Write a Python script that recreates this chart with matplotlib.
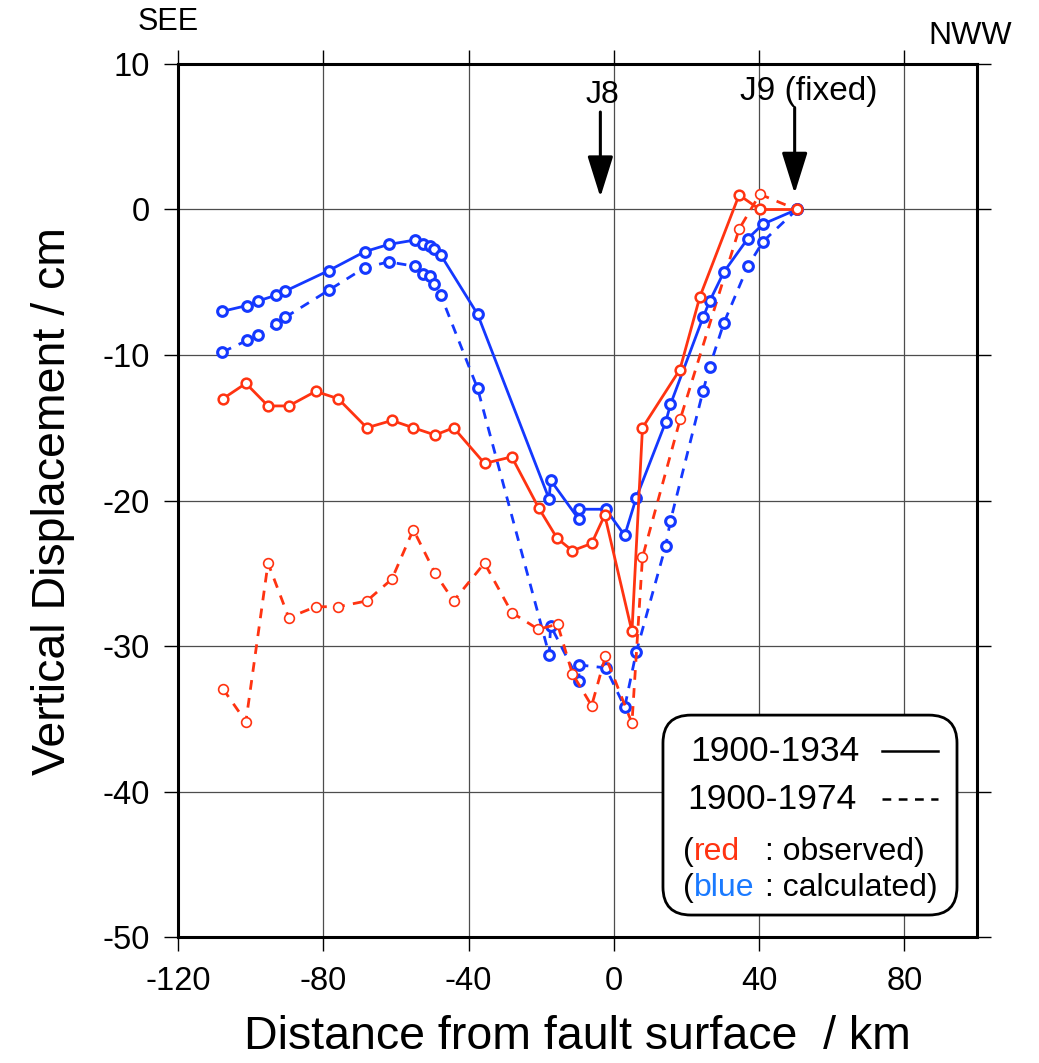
import numpy as np
import matplotlib.pyplot as plt
from matplotlib.patches import FancyBboxPatch
from matplotlib.lines import Line2D

plt.rcParams['font.family'] = ['Liberation Sans', 'DejaVu Sans']
plt.rcParams['axes.unicode_minus'] = False

# observed (red), km from fault surface / cm
obs34_x = [-107.6, -101.3, -95.2, -89.5, -82.1, -75.9, -68.0, -61.1, -55.2, -49.2, -44.1,
           -35.6, -28.1, -20.7, -15.6, -11.4, -6.1, -2.5, 5.0, 7.9, 18.2, 23.7, 34.5, 40.2, 50.4]
obs34_y = [-13.0, -11.95, -13.5, -13.5, -12.5, -13.0, -15.0, -14.5, -15.0, -15.5, -15.0,
           -17.45, -17.0, -20.5, -22.6, -23.45, -22.95, -21.0, -29.0, -15.0, -11.0, -6.0, 1.0, 0.0, 0.0]

obs74_x = [-107.6, -101.3, -95.2, -89.5, -82.1, -75.9, -68.0, -61.1, -55.2, -49.2, -44.1,
           -35.6, -28.1, -20.8, -15.5, -11.4, -6.1, -2.3, 5.0, 7.9, 18.3, 34.5, 40.2, 50.4]
obs74_y = [-32.95, -35.2, -24.3, -28.05, -27.3, -27.3, -26.9, -25.4, -22.0, -25.0, -26.9,
           -24.3, -27.7, -28.85, -28.5, -31.9, -34.1, -30.7, -35.3, -23.9, -14.4, -1.35, 1.05, 0.0]

# calculated (blue)
calc_x = [-107.8, -101.0, -98.1, -93.1, -90.4, -78.5, -68.6, -62.0, -54.8, -52.5, -50.5, -49.4,
          -47.7, -37.5, -17.8, -17.4, -9.6, -9.6, -2.2, 3.0, 6.2, 14.3, 15.6, 24.6, 26.4,
          30.3, 36.9, 41.1, 50.4]
calc34_y = [-7.0, -6.6, -6.3, -5.9, -5.6, -4.2, -2.9, -2.4, -2.1, -2.4, -2.5, -2.7,
            -3.1, -7.2, -19.9, -18.6, -21.3, -20.6, -20.6, -22.4, -19.8, -14.6, -13.4, -7.4, -6.3,
            -4.3, -2.0, -1.0, 0.0]
calc74_y = [-9.8, -9.0, -8.6, -7.9, -7.4, -5.55, -4.0, -3.6, -3.9, -4.4, -4.6, -5.1,
            -5.85, -12.3, -30.6, -28.6, -32.4, -31.3, -31.5, -34.2, -30.4, -23.1, -21.4, -12.45, -10.8,
            -7.8, -3.9, -2.2, 0.0]

RED = '#ff3311'
BLUE = '#1438ff'

fig = plt.figure(figsize=(10.39, 10.63), dpi=100)
ax = fig.add_axes([0.1713, 0.1185, 0.7690, 0.8213])

dash = (0, (3.5, 3))
mk = dict(marker='o', markersize=7, markerfacecolor='white')
ax.plot(calc_x, calc74_y, color=BLUE, lw=2.0, linestyle=dash, markeredgewidth=2.2, **mk)
ax.plot(obs74_x, obs74_y, color=RED, lw=2.0, linestyle=dash, markeredgewidth=1.2, **mk)
ax.plot(calc_x, calc34_y, color=BLUE, lw=2.0, markeredgewidth=2.2, **mk)
ax.plot(obs34_x, obs34_y, color=RED, lw=2.0, markeredgewidth=1.8, **mk)

ax.set_xlim(-120, 100)
ax.set_ylim(-50, 10)
ax.set_xticks([-120, -80, -40, 0, 40, 80])
ax.set_yticks(np.arange(-50, 11, 10))
ax.grid(True, color='0.3', lw=0.9)
ax.set_axisbelow(True)
for s in ax.spines.values():
    s.set_linewidth(2.2)
ax.tick_params(axis='both', which='both', direction='out', length=10, width=1,
               top=True, right=True, labelsize=23.5)
ax.tick_params(axis='x', pad=11)
ax.tick_params(axis='y', pad=10)

ax.set_xlabel('Distance from fault surface  / km', fontsize=33.5, labelpad=13)
ax.set_ylabel('Vertical Displacement / cm', fontsize=33.5, labelpad=20)

fig.text(0.1617, 0.979, 'SEE', fontsize=22, ha='center', va='center')
fig.text(0.9336, 0.966, 'NWW', fontsize=23, ha='center', va='center')

# station arrows
astyle = dict(arrowstyle='-|>,head_length=1.15,head_width=0.36', mutation_scale=22,
              lw=2.2, color='black', shrinkA=0, shrinkB=0)
ax.annotate('', xy=(-3.7, 0.85), xytext=(-3.7, 6.7), arrowprops=astyle)
ax.annotate('', xy=(49.8, 1.1), xytext=(49.8, 7.0), arrowprops=astyle)
ax.text(-3.2, 7.32, 'J8', fontsize=23, ha='center', va='baseline')
ax.text(53.8, 7.53, 'J9 (fixed)', fontsize=24, ha='center', va='baseline')

# legend box
box = FancyBboxPatch((0.607, 0.0252), 0.368, 0.229, boxstyle='round,pad=0,rounding_size=0.035',
                     transform=ax.transAxes, facecolor='white', edgecolor='black', lw=2,
                     mutation_aspect=799 / 873, zorder=5)
ax.add_patch(box)
ax.add_line(Line2D([0.881, 0.951], [0.213, 0.213], transform=ax.transAxes, color='black',
                   lw=1.8, zorder=6))
ax.add_line(Line2D([0.881, 0.951], [0.158, 0.158], transform=ax.transAxes, color='black',
                   lw=1.8, linestyle=dash, zorder=6))
ax.text(0.641, 0.213, '1900-1934', transform=ax.transAxes, fontsize=25.5, va='center', zorder=6)
ax.text(0.637, 0.158, '1900-1974', transform=ax.transAxes, fontsize=25.5, va='center', zorder=6)


def colour_words(x, y, parts, colon_x, tail):
    t = ax.text(x, y, parts[0][0], color=parts[0][1], transform=ax.transAxes,
                fontsize=23, va='center', zorder=6)
    for s, c in parts[1:]:
        t = ax.annotate(s, xy=(1, 0), xycoords=t, va='bottom', color=c, fontsize=23, zorder=6)
    ax.text(colon_x, y, tail, transform=ax.transAxes, fontsize=23, va='center', zorder=6)


colour_words(0.632, 0.0974, [('(', 'black'), ('red', RED)], 0.735, ': observed)')
colour_words(0.632, 0.0561, [('(', 'black'), ('blue', '#1a7aff')], 0.735, ': calculated)')

fig.savefig('out.png', dpi=100)
